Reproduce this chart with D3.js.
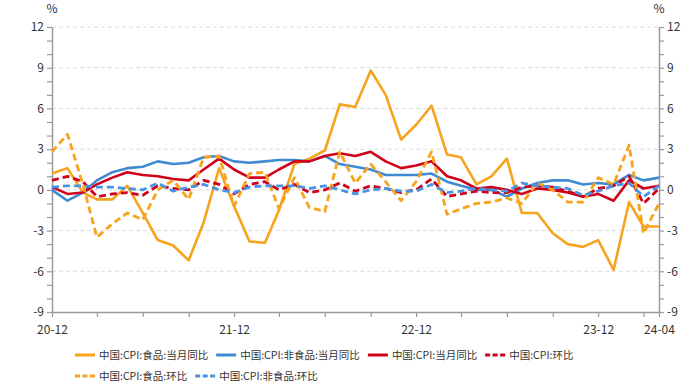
<!DOCTYPE html>
<html>
<head>
<meta charset="utf-8">
<script src="https://cdn.jsdelivr.net/npm/d3@7"></script>
<style>
  html, body { margin: 0; padding: 0; background: #fff; }
  svg { display: block; font-family: "Noto Sans CJK SC", "Noto Sans", sans-serif; }
</style>
</head>
<body>
<svg id="svg-container" width="694" height="390"></svg>
<script>
// months Dec 2020 .. Apr 2024
const months = [
  "2020-12",
  "2021-01","2021-02","2021-03","2021-04","2021-05","2021-06","2021-07","2021-08","2021-09","2021-10","2021-11","2021-12",
  "2022-01","2022-02","2022-03","2022-04","2022-05","2022-06","2022-07","2022-08","2022-09","2022-10","2022-11","2022-12",
  "2023-01","2023-02","2023-03","2023-04","2023-05","2023-06","2023-07","2023-08","2023-09","2023-10","2023-11","2023-12",
  "2024-01","2024-02","2024-03","2024-04"
];

const foodYoy = [1.2, 1.6,-0.2,-0.7,-0.7,0.3,-1.7,-3.7,-4.1,-5.2,-2.4,1.6,-1.2,
  -3.8,-3.9,-1.5,1.9,2.3,2.9,6.3,6.1,8.8,7.0,3.7,4.8,
  6.2,2.6,2.4,0.4,1.0,2.3,-1.7,-1.7,-3.2,-4.0,-4.2,-3.7,
  -5.9,-0.9,-2.7,-2.7];
const nonFoodYoy = [0.0, -0.8,-0.2,0.7,1.3,1.6,1.7,2.1,1.9,2.0,2.4,2.5,2.1,
  2.0,2.1,2.2,2.2,2.1,2.5,1.9,1.7,1.5,1.1,1.1,1.1,
  1.2,0.6,0.3,0.0,0.0,-0.5,0.1,0.5,0.7,0.7,0.4,0.5,
  0.4,1.1,0.7,0.9];
const cpiYoy = [0.2, -0.3,-0.2,0.4,0.9,1.3,1.1,1.0,0.8,0.7,1.5,2.3,1.5,
  0.9,0.9,1.5,2.1,2.1,2.5,2.7,2.5,2.8,2.1,1.6,1.8,
  2.1,1.0,0.7,0.1,0.2,0.0,-0.3,0.1,0.0,-0.2,-0.5,-0.3,
  -0.8,0.7,0.1,0.3];
const cpiMom = [0.7, 1.0,0.6,-0.5,-0.3,-0.2,-0.4,0.3,0.1,0.0,0.7,0.4,-0.3,
  0.4,0.6,0.0,0.4,-0.2,0.0,0.5,-0.1,0.3,0.1,-0.2,0.0,
  0.8,-0.5,-0.3,-0.1,-0.2,-0.2,0.2,0.3,0.2,-0.1,-0.5,0.1,
  0.3,1.0,-1.0,0.1];
const foodMom = [2.8, 4.1,0.4,-3.5,-2.5,-1.7,-2.2,0.0,0.7,-0.7,2.4,2.5,-1.2,
  1.2,1.3,-1.4,0.9,-1.3,-1.6,2.8,0.5,1.9,0.6,-0.8,0.6,
  2.8,-1.8,-1.4,-1.0,-0.9,-0.6,-1.0,0.5,0.0,-0.9,-0.9,0.9,
  0.4,3.3,-3.2,-1.0];
const nonFoodMom = [0.2, 0.3,0.3,0.2,0.2,0.1,0.0,0.5,-0.1,0.2,0.4,0.0,-0.2,
  0.2,0.3,0.3,0.3,0.1,0.3,0.0,-0.3,0.0,0.1,-0.1,-0.1,
  0.4,-0.2,-0.1,0.1,0.0,-0.1,0.5,0.3,0.2,0.1,-0.4,-0.1,
  0.3,0.5,-0.5,0.3];

const xTickLabels = ["20-12", "21-12", "22-12", "23-12", "24-04"];
const yTicks = [-9, -6, -3, 0, 3, 6, 9, 12];

const seriesNames = ["中国:CPI:食品:当月同比", "中国:CPI:非食品:当月同比", "中国:CPI:当月同比",
  "中国:CPI:环比", "中国:CPI:食品:环比", "中国:CPI:非食品:环比"];

const ORANGE = "#f7a31c", BLUE = "#3f8ad2", RED = "#d0021b", BLUE2 = "#4a95e3";
const series = [
  { name: seriesNames[0], values: foodYoy, color: ORANGE, dash: null },
  { name: seriesNames[1], values: nonFoodYoy, color: BLUE, dash: null },
  { name: seriesNames[2], values: cpiYoy, color: RED, dash: null },
  { name: seriesNames[3], values: cpiMom, color: RED, dash: "7,4" },
  { name: seriesNames[4], values: foodMom, color: ORANGE, dash: "7,4" },
  { name: seriesNames[5], values: nonFoodMom, color: BLUE2, dash: "7,4" }
];

const parseMonth = d3.timeParse("%Y-%m");
const dates = months.map(parseMonth);
const fmtLabel = d3.timeFormat("%y-%m");

const plotLeft = 52, plotRight = 659, plotTop = 27, plotBottom = 312;
const svg = d3.select('#svg-container');

const x = d3.scaleTime().domain([dates[0], dates[dates.length - 1]]).range([plotLeft, plotRight]);
const y = d3.scaleLinear().domain([-9, 12]).range([plotBottom, plotTop]);

// grid
svg.append('g')
  .selectAll('line')
  .data(yTicks.filter(v => v !== -9))
  .join('line')
  .attr('x1', plotLeft).attr('x2', plotRight)
  .attr('y1', d => y(d)).attr('y2', d => y(d))
  .attr('stroke', '#dcdcdc')
  .attr('stroke-width', 1)
  .attr('stroke-dasharray', '4,3');

// axes
const yMinor = d3.range(-9, 13, 1);
const styleAxis = g => {
  g.select('.domain').attr('stroke', '#9a9a9a').attr('stroke-width', 1.5);
  g.selectAll('.tick line').attr('stroke', '#9a9a9a').attr('stroke-width', 1.2);
  g.selectAll('.tick text').attr('fill', '#333').style('font-size', '12px')
    .style('font-family', '"Noto Sans CJK SC", "Noto Sans", sans-serif');
};

svg.append('g')
  .attr('transform', `translate(${plotLeft},0)`)
  .call(d3.axisLeft(y).tickValues(yMinor).tickSize(5).tickSizeOuter(0)
    .tickFormat(d => d % 3 === 0 ? String(d) : ""))
  .call(styleAxis);

svg.append('g')
  .attr('transform', `translate(${plotRight},0)`)
  .call(d3.axisRight(y).tickValues(yMinor).tickSize(5).tickSizeOuter(0)
    .tickFormat(d => d % 3 === 0 ? String(d) : ""))
  .call(styleAxis);

const xTickDates = dates.filter((d, i) => i % 3 === 0).concat([dates[dates.length - 1]]);
svg.append('g')
  .attr('transform', `translate(0,${plotBottom})`)
  .call(d3.axisBottom(x).tickValues(xTickDates).tickSize(5).tickSizeOuter(0)
    .tickFormat(d => xTickLabels.includes(fmtLabel(d)) ? fmtLabel(d) : ""))
  .call(styleAxis)
  .call(g => g.selectAll('.tick text').attr('dy', '1.2em'));

// unit labels
[plotLeft, plotRight].forEach(px => {
  svg.append('text')
    .attr('x', px).attr('y', 13)
    .attr('text-anchor', 'middle')
    .attr('fill', '#333')
    .style('font-size', '12px')
    .text('%');
});

// lines
const line = d3.line()
  .x((d, i) => x(dates[i]))
  .y(d => y(d));

series.forEach(s => {
  svg.append('path')
    .datum(s.values)
    .attr('d', line)
    .attr('fill', 'none')
    .attr('stroke', s.color)
    .attr('stroke-width', s.dash ? 2.8 : 2.6)
    .attr('stroke-linejoin', 'round')
    .attr('stroke-dasharray', s.dash);
});

// legend
const legend = svg.append('g');
let lx = 75, ly = 355;
series.forEach(s => {
  const item = legend.append('g');
  item.append('line')
    .attr('x1', 0).attr('x2', 20).attr('y1', 0).attr('y2', 0)
    .attr('stroke', s.color)
    .attr('stroke-width', 3)
    .attr('stroke-dasharray', s.dash ? '5,2.5' : null);
  const t = item.append('text')
    .attr('x', 24).attr('y', 0).attr('dy', '0.35em')
    .attr('fill', '#333')
    .style('font-size', '10.5px')
    .text(s.name);
  const w = 24 + t.node().getComputedTextLength() + 8;
  if (lx + w > 620 && lx > 75) { lx = 75; ly += 21; }
  item.attr('transform', `translate(${lx},${ly})`);
  lx += w;
});
</script>
</body>
</html>
